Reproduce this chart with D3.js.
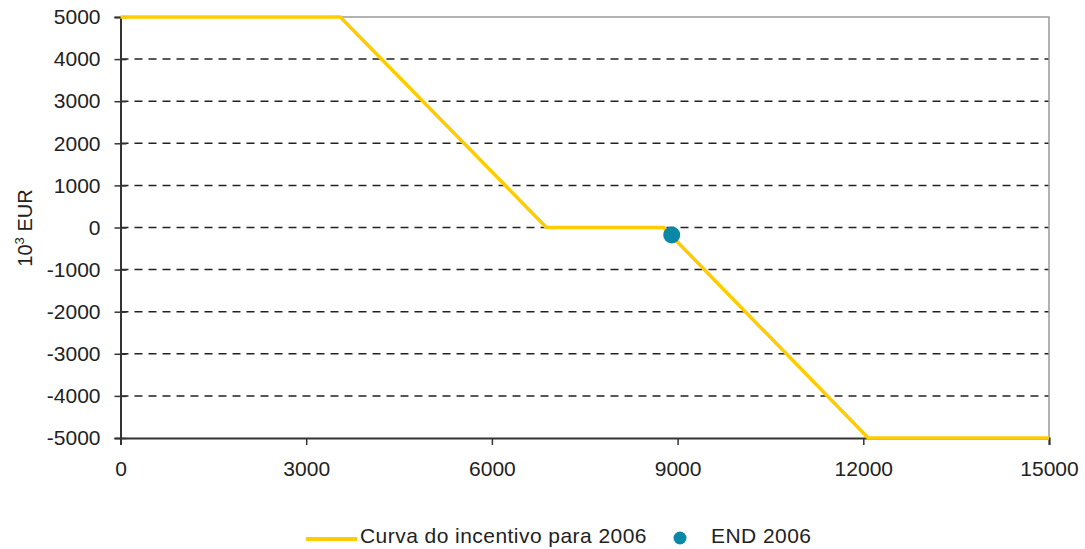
<!DOCTYPE html>
<html>
<head>
<meta charset="utf-8">
<script src="https://cdn.jsdelivr.net/npm/d3@7"></script>
<style>
  body { margin: 0; background: #fff; }
  svg { font-family: "Liberation Sans", Arial, sans-serif; }
  .axis text { font-size: 21px; fill: #222; }
  .label { font-size: 21px; fill: #222; }
</style>
</head>
<body>
<svg width="1085" height="549"></svg>
<script>
// curve breakpoints
var curveX = [0, 3550, 6880, 8770, 12080, 15000];
var curveY = [5000, 5000, 0, 0, -5000, -5000];
// END 2006 point
var endX = [8905];
var endY = [-180];
var yTicks = [5000, 4000, 3000, 2000, 1000, 0, -1000, -2000, -3000, -4000, -5000];
var xTicks = [0, 3000, 6000, 9000, 12000, 15000];
var seriesNames = ['Curva do incentivo para 2006', 'END 2006'];

var svg = d3.select('svg');

var x = d3.scaleLinear().domain([0, 15000]).range([120.5, 1049]);
var y = d3.scaleLinear().domain([-5000, 5000]).range([438, 17]);

// dashed grid
svg.append('g').selectAll('line')
    .data(yTicks.filter(function(d){ return d > -5000 && d < 5000; }))
    .enter().append('line')
    .attr('x1', x(0)).attr('x2', x(15000))
    .attr('y1', function(d){ return y(d); })
    .attr('y2', function(d){ return y(d); })
    .attr('stroke', '#222')
    .attr('stroke-width', 1.5)
    .attr('stroke-dasharray', '8,6');

// top + right frame
svg.append('path')
    .attr('d', 'M' + x(0) + ',' + y(5000) + 'H' + x(15000) + 'V' + y(-5000))
    .attr('fill', 'none')
    .attr('stroke', '#999')
    .attr('stroke-width', 1.5);

var fmt = function(d){ return String(d); };

var yAxis = svg.append('g').attr('class', 'axis')
    .attr('transform', 'translate(' + x(0) + ',0)')
    .call(d3.axisLeft(y).tickValues(yTicks).tickFormat(fmt).tickSize(6).tickPadding(14));
yAxis.selectAll('.tick line').attr('x1', 6);

var xAxis = svg.append('g').attr('class', 'axis')
    .attr('transform', 'translate(0,' + y(-5000) + ')')
    .call(d3.axisBottom(x).tickValues(xTicks).tickFormat(fmt).tickSize(7).tickPadding(16));

svg.selectAll('.axis path').attr('stroke', '#333').attr('stroke-width', 2);
svg.selectAll('.axis .tick line').attr('stroke', '#333').attr('stroke-width', 1.5);
svg.selectAll('.axis text').attr('font-family', null).attr('font-size', null);

// y title
var yt = svg.append('text')
    .attr('class', 'label')
    .style('font-size', '20px')
    .attr('transform', 'translate(32,228) rotate(-90)')
    .attr('text-anchor', 'middle');
yt.append('tspan').text('10');
yt.append('tspan').attr('dy', -8).attr('font-size', 13).text('3');
yt.append('tspan').attr('dy', 8).text(' EUR');

// curve
var line = d3.line()
    .x(function(d){ return x(d[0]); })
    .y(function(d){ return y(d[1]); });

svg.append('path')
    .datum(d3.zip(curveX, curveY))
    .attr('d', line)
    .attr('fill', 'none')
    .attr('stroke', '#FFCC00')
    .attr('stroke-width', 3.5)
    .attr('stroke-linejoin', 'round');

svg.selectAll('.endpt')
    .data(d3.zip(endX, endY))
    .enter().append('circle')
    .attr('class', 'endpt')
    .attr('cx', function(d){ return x(d[0]); })
    .attr('cy', function(d){ return y(d[1]); })
    .attr('r', 8.5)
    .attr('fill', '#0A88A8');

// legend
var lg = svg.append('g').attr('transform', 'translate(0,539)');
lg.append('line')
    .attr('x1', 306).attr('x2', 357).attr('y1', 0).attr('y2', 0)
    .attr('stroke', '#FFCC00').attr('stroke-width', 4);
lg.append('text').attr('class', 'label')
    .attr('x', 360).attr('y', 4).style('letter-spacing', '0.45px')
    .text(seriesNames[0]);
lg.append('circle').attr('cx', 680).attr('cy', -1).attr('r', 6.5).attr('fill', '#0A88A8');
lg.append('text').attr('class', 'label')
    .attr('x', 711).attr('y', 4).style('letter-spacing', '0.45px')
    .text(seriesNames[1]);
</script>
</body>
</html>
